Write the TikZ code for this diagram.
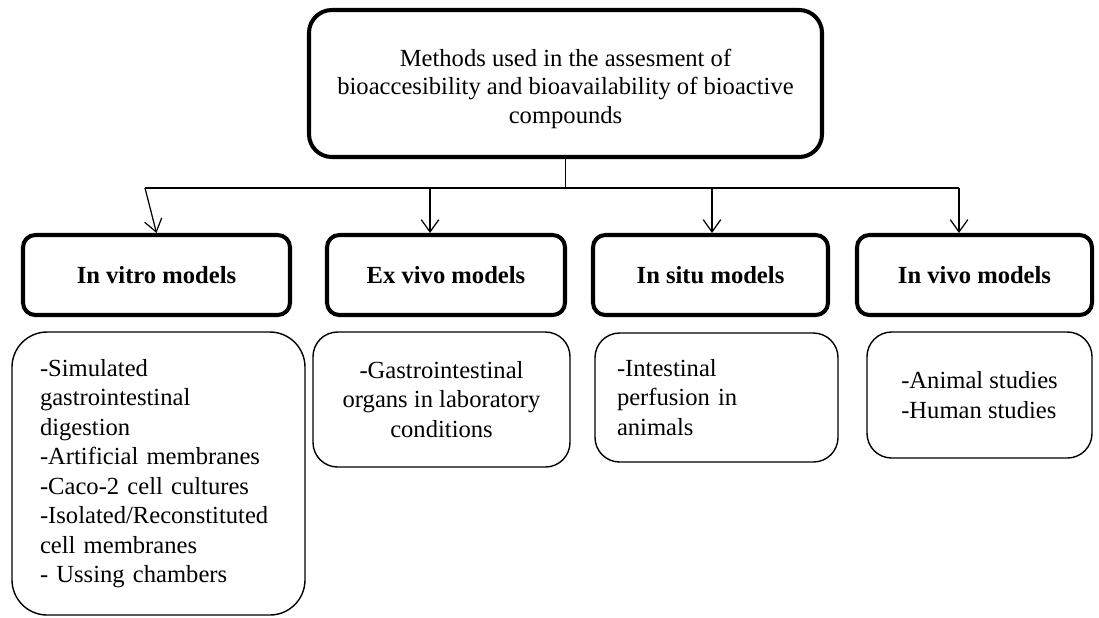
\documentclass[tikz,border=0pt]{standalone}
\usepackage{fontspec}
\setmainfont{Liberation Serif}
\usetikzlibrary{arrows.meta}

\begin{document}
\begin{tikzpicture}[every node/.append style={font=\fontsize{14}{16.8}\selectfont}, main/.style={draw, rounded corners=13pt, line width=2.3pt, minimum width=10.26cm, minimum height=2.94cm, align=center, font=\fontsize{14}{16.3}\selectfont}, head/.style={draw, rounded corners=7pt, line width=2.3pt, minimum height=1.6cm, font=\fontsize{14}{16.8}\selectfont\bfseries}, info/.style={draw, rounded corners=14pt, line width=0.8pt}, n/.style={-{Straight Barb[length=7pt, width=10pt]}, line width=0.7pt}]
            \useasboundingbox (0,0) rectangle (21.98,-12.34);
            % nodes
            \node[main, text height=1.7cm] (top) at (11.31,-1.67) {Methods used in the assesment of\\ bioaccesibility and bioavailability of bioactive\\ compounds};
            \node[head, minimum width=5.34cm] (vitro) at (3.13,-5.5) {In vitro models};
            \node[head, minimum width=4.76cm] (exvivo) at (8.92,-5.5) {Ex vivo models};
            \node[head, minimum width=4.7cm] (situ) at (14.21,-5.5) {In situ models};
            \node[head, minimum width=4.7cm] (invivo) at (19.49,-5.5) {In vivo models};
            \node[info, rounded corners=20pt, minimum height=5.66cm, text width=4.74cm, inner xsep=0.56cm, align=left] (vitrolist) at (3.17,-9.47) {-Simulated\\ gastrointestinal\\ digestion\\ -Artificial membranes\\ -Caco-2 cell cultures\\ -Isolated/Reconstituted\\ cell membranes\\ - Ussing chambers};
            \node[info, minimum width=5.14cm, minimum height=2.7cm, align=center] (exvivolist) at (8.83,-7.99) {-Gastrointestinal\\ organs in laboratory\\ conditions};
            \node[info, minimum height=2.58cm, text width=3.98cm, inner xsep=0.44cm, align=left] (situlist) at (14.33,-7.95) {-Intestinal\\ perfusion in\\ animals};
            \node[info, minimum width=4.5cm, minimum height=2.52cm, align=left] (invivolist) at (19.59,-7.9) {-Animal studies\\ -Human studies};
            % junctions
            \coordinate (j1) at (2.9,-3.76);
            \coordinate (j2) at (8.6,-3.76);
            \coordinate (j3) at (14.24,-3.76);
            \coordinate (j4) at (19.18,-3.76);
            % edges
            \draw [line width=0.7pt] (top.south) -- (top.south |- j1);
            \draw [line width=0.7pt] (j1) -- (j4);
            \draw [n] (j1) -- (vitro.north);
            \draw [n] (j2) -- (j2 |- exvivo.north);
            \draw [n] (j3) -- (j3 |- situ.north);
            \draw [n] (j4) -- (j4 |- invivo.north);
        \end{tikzpicture}
\end{document}
